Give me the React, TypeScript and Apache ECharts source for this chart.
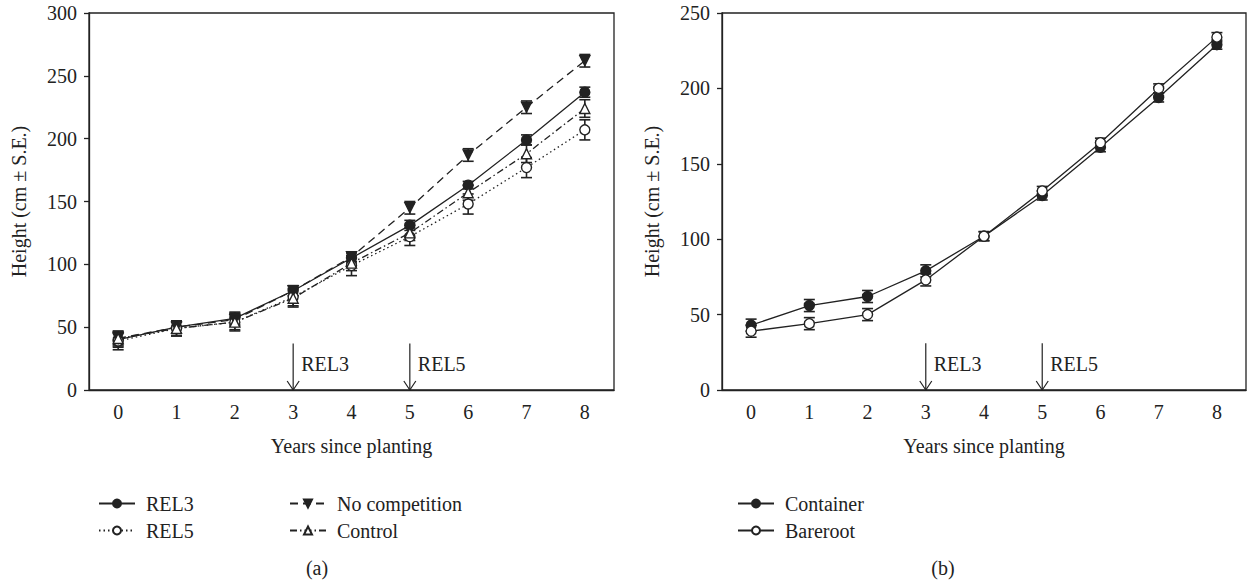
import React, { useEffect, useRef } from "react";
import * as echarts from "echarts";

const years = ["0", "1", "2", "3", "4", "5", "6", "7", "8"];
const yTicksA = [0, 300];
const yTicksB = [0, 250];

const rel3 = [40, 50, 57, 79, 105, 131, 163, 199, 237];
const rel3SE = [6, 5, 5, 4, 4, 4, 3, 4, 4];
const rel5 = [39, 49, 54, 74, 99, 122, 148, 177, 207];
const rel5SE = [7, 6, 6, 7, 8, 7, 8, 8, 8];
const noComp = [41, 50, 56, 79, 106, 145, 187, 225, 262];
const noCompSE = [5, 5, 5, 4, 4, 5, 5, 5, 5];
const control = [41, 49, 54, 73, 101, 125, 157, 188, 224];
const controlSE = [6, 6, 7, 7, 6, 6, 6, 7, 7];

const container = [43, 56, 62, 79, 102, 129, 161, 194, 229];
const containerSE = [4, 4, 4, 4, 3, 3, 3, 3, 3];
const bareroot = [39, 44, 50, 73, 102, 132, 164, 200, 234];
const barerootSE = [4, 4, 4, 4, 3, 3, 3, 3, 3];

const releaseYears = [3, 5];
const releaseLabels = ["REL3", "REL5"];
const arrowTopA = 37;
const arrowTopB = 31;

const FONT = "Liberation Serif";
const INK = "#222";

function errData(vals: number[], se: number[]) {
  return vals.map((v, i) => [i, v - se[i], v + se[i]]);
}

function errSeries(vals: number[], se: number[], axis: number) {
  return {
    type: "custom",
    xAxisIndex: axis,
    yAxisIndex: axis,
    z: 1,
    silent: true,
    encode: { x: 0, y: [1, 2] },
    data: errData(vals, se),
    renderItem: (params: any, api: any) => {
      const x = api.value(0);
      const lo = api.coord([x, api.value(1)]);
      const hi = api.coord([x, api.value(2)]);
      const w = 5.5;
      const st = { stroke: INK, lineWidth: 1.6 };
      return {
        type: "group",
        children: [
          { type: "line", shape: { x1: lo[0], y1: lo[1], x2: hi[0], y2: hi[1] }, style: st },
          { type: "line", shape: { x1: lo[0] - w, y1: lo[1], x2: lo[0] + w, y2: lo[1] }, style: st },
          { type: "line", shape: { x1: hi[0] - w, y1: hi[1], x2: hi[0] + w, y2: hi[1] }, style: st },
        ],
      };
    },
  };
}

function arrowSeries(top: number, axis: number) {
  return {
    type: "custom",
    xAxisIndex: axis,
    yAxisIndex: axis,
    silent: true,
    z: 5,
    data: releaseYears.map((y, i) => [y, top, 0, releaseLabels[i]]),
    renderItem: (params: any, api: any) => {
      const x = api.value(0);
      const t = api.coord([x, api.value(1)]);
      const b = api.coord([x, api.value(2)]);
      const label = releaseLabels[params.dataIndex];
      const st = { stroke: INK, lineWidth: 1.2, fill: "none" };
      return {
        type: "group",
        children: [
          { type: "line", shape: { x1: t[0], y1: t[1], x2: b[0], y2: b[1] }, style: st },
          {
            type: "polyline",
            shape: { points: [[b[0] - 6, b[1] - 9], [b[0], b[1]], [b[0] + 6, b[1] - 9]] },
            style: st,
          },
          {
            type: "text",
            x: t[0] + 8,
            y: (t[1] + b[1]) / 2 - 3,
            style: {
              text: label,
              fill: INK,
              fontFamily: FONT,
              fontSize: 20,
              textAlign: "left",
              textVerticalAlign: "middle",
            },
          },
        ],
      };
    },
  };
}

function lineSeries(name: string, vals: number[], axis: number, opts: any) {
  return {
    type: "line",
    name,
    xAxisIndex: axis,
    yAxisIndex: axis,
    data: vals,
    z: 3,
    symbolSize: 10,
    lineStyle: { color: INK, width: 1.3, type: opts.dash || "solid" },
    itemStyle: { color: opts.fill, borderColor: INK, borderWidth: 1.4 },
    symbol: opts.symbol,
    symbolRotate: opts.rotate || 0,
    emphasis: { disabled: true },
  };
}

function xAxis(grid: number) {
  return {
    type: "category",
    gridIndex: grid,
    data: years,
    boundaryGap: true,
    name: "Years since planting",
    nameLocation: "middle",
    nameGap: 46,
    nameTextStyle: { fontFamily: FONT, fontSize: 20, color: INK },
    axisLine: { lineStyle: { color: INK, width: 1.3 } },
    axisTick: { alignWithLabel: true, length: 5, lineStyle: { color: INK, width: 1.3 } },
    axisLabel: { fontFamily: FONT, fontSize: 20, color: INK, margin: 12 },
    splitLine: { show: false },
  };
}

function yAxis(grid: number, ticks: number[]) {
  return {
    type: "value",
    gridIndex: grid,
    min: ticks[0],
    max: ticks[1],
    interval: 50,
    name: "Height (cm ± S.E.)",
    nameLocation: "middle",
    nameGap: 60,
    nameTextStyle: { fontFamily: FONT, fontSize: 20, color: INK },
    axisLine: { show: true, lineStyle: { color: INK, width: 1.3 } },
    axisTick: { show: true, length: 5, lineStyle: { color: INK, width: 1.3 } },
    axisLabel: { fontFamily: FONT, fontSize: 20, color: INK, margin: 12 },
    splitLine: { show: false },
  };
}

function legend(left: number, names: string[]) {
  return {
    left,
    top: 488,
    orient: "vertical",
    itemWidth: 36,
    itemHeight: 10,
    itemGap: 6,
    data: names,
    selectedMode: false,
    textStyle: { fontFamily: FONT, fontSize: 20, color: INK, lineHeight: 21, padding: [0, 0, 0, 6] },
  };
}

export default function App() {
  const ref = useRef<HTMLDivElement>(null);
  useEffect(() => {
    if (!ref.current) return;
    const chart = echarts.init(ref.current, null, { renderer: "svg" });
    chart.setOption({
      animation: false,
      backgroundColor: "#fff",
      textStyle: { fontFamily: FONT },
      title: [
        { text: "(a)", left: 312, top: 553, textAlign: "center", textStyle: { fontFamily: FONT, fontSize: 20, fontWeight: "normal", color: INK } },
        { text: "(b)", left: 938, top: 553, textAlign: "center", textStyle: { fontFamily: FONT, fontSize: 20, fontWeight: "normal", color: INK } },
      ],
      grid: [
        { left: 89, top: 13, width: 525, height: 377, show: true, borderColor: INK, borderWidth: 1.3, backgroundColor: "transparent" },
        { left: 722, top: 13, width: 524, height: 377, show: true, borderColor: INK, borderWidth: 1.3, backgroundColor: "transparent" },
      ],
      xAxis: [xAxis(0), xAxis(1)],
      yAxis: [yAxis(0, yTicksA), yAxis(1, yTicksB)],
      legend: [
        legend(93, ["REL3", "REL5"]),
        legend(284, ["No competition", "Control"]),
        legend(732, ["Container", "Bareroot"]),
      ],
      series: [
        lineSeries("REL3", rel3, 0, { symbol: "circle", fill: INK }),
        lineSeries("REL5", rel5, 0, { symbol: "circle", fill: "#fff", dash: [1.5, 3] }),
        lineSeries("No competition", noComp, 0, { symbol: "triangle", rotate: 180, fill: INK, dash: [8, 5] }),
        lineSeries("Control", control, 0, { symbol: "triangle", fill: "#fff", dash: [7, 3, 1.5, 3] }),
        errSeries(rel3, rel3SE, 0),
        errSeries(rel5, rel5SE, 0),
        errSeries(noComp, noCompSE, 0),
        errSeries(control, controlSE, 0),
        arrowSeries(arrowTopA, 0),
        lineSeries("Container", container, 1, { symbol: "circle", fill: INK }),
        lineSeries("Bareroot", bareroot, 1, { symbol: "circle", fill: "#fff" }),
        errSeries(container, containerSE, 1),
        errSeries(bareroot, barerootSE, 1),
        arrowSeries(arrowTopB, 1),
      ],
    });
    return () => chart.dispose();
  }, []);
  return <div ref={ref} style={{ position: "absolute", left: 0, top: 0, width: 1247, height: 583 }} />;
}
